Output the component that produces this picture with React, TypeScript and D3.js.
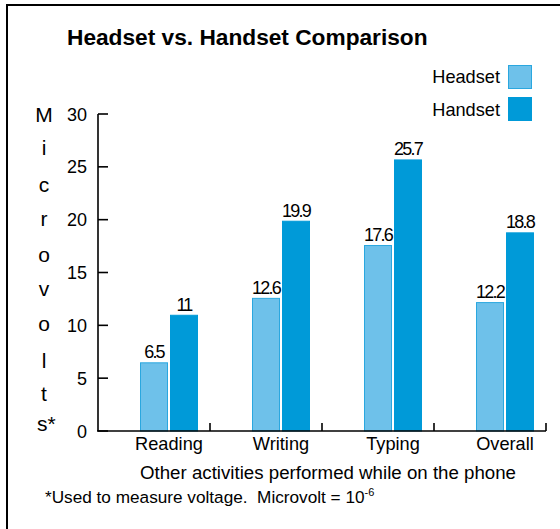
import React from "react";
import * as d3 from "d3";

const categories = ["Reading", "Writing", "Typing", "Overall"];
const seriesNames = ["Headset", "Handset"];
const headset = [6.5, 12.6, 17.6, 12.2];
const handset = [11, 19.9, 25.7, 18.8];
const yTicks = [0, 5, 10, 15, 20, 25, 30];
const yLabelLetters = ["M", "i", "c", "r", "o", "v", "o", "l", "t", "s*"];
const yLabelBaselines = [122, 155, 192, 226, 262, 296, 331, 368, 401, 431];

const colors = ["#6ec1ea", "#009ad8"];
const strokes = ["#2aa7df", "#009ad8"];
const FONT = "'Liberation Sans', Arial, Helvetica, sans-serif";

export default function App() {
  const W = 560, H = 529;
  const x0 = 98, x1 = 546;
  const yb = 431, yt = 114;
  const x = d3.scaleBand().domain(categories).range([x0, x1]).paddingInner(0).paddingOuter(0);
  const y = d3.scaleLinear().domain([0, 30]).range([yb, yt]);
  const barW = 28;
  const gap = 2;
  const offset = 42;
  const series = [headset, handset];

  return (
    <svg width={W} height={H} style={{ position: "absolute", left: 0, top: 0, background: "#fff" }} fontFamily={FONT}>
      <rect x={0} y={0} width={W} height={H} fill="#fff" />
      {/* frame */}
      <line x1={6} y1={5} x2={W} y2={5} stroke="#000" strokeWidth={2} />
      <line x1={7} y1={4} x2={7} y2={H} stroke="#000" strokeWidth={2} />

      <text x={67} y={45} fontSize={22.7} fontWeight="bold" fill="#000">Headset vs. Handset Comparison</text>

      {/* legend */}
      {seriesNames.map((s, i) => (
        <g key={s}>
          <text x={500} y={83 + i * 32.5} fontSize={18.2} textAnchor="end" fill="#000">{s}</text>
          <rect x={508.5} y={65.5 + i * 32} width={23} height={23} fill={colors[i]} stroke={strokes[i]} strokeWidth={1} />
        </g>
      ))}

      {/* bars */}
      {categories.map((c, ci) =>
        series.map((vals, si) => {
          const bx = (x(c) as number) + offset + si * (barW + gap);
          const v = vals[ci];
          return (
            <g key={c + si}>
              <rect x={bx + 0.5} y={y(v) + 0.5} width={barW - 1} height={yb - y(v) - 0.5} fill={colors[si]} stroke={strokes[si]} strokeWidth={1} />
              <text x={bx + barW / 2} y={y(v) - 4} fontSize={18} letterSpacing={-1.8} textAnchor="middle" fill="#000">{String(v)}</text>
            </g>
          );
        })
      )}

      {/* y axis */}
      <line x1={x0} y1={yt} x2={x0} y2={yb} stroke="#000" strokeWidth={1.6} />
      {yTicks.map((t) => (
        <g key={t}>
          <line x1={x0} x2={x0 + 10} y1={y(t)} y2={y(t)} stroke="#000" strokeWidth={1.6} />
          <text x={87} y={y(t) + 6.5} fontSize={18} textAnchor="end" fill="#000">{t}</text>
        </g>
      ))}

      {/* x axis */}
      <line x1={x0 - 1} y1={yb} x2={x1} y2={yb} stroke="#000" strokeWidth={1.6} />
      {categories.map((c) => {
        const bx = (x(c) as number) + x.bandwidth();
        return <line key={"t" + c} x1={bx} x2={bx} y1={yb} y2={yb - 8} stroke="#000" strokeWidth={1.6} />;
      })}
      {categories.map((c) => (
        <text key={"l" + c} x={(x(c) as number) + offset + barW + gap / 2} y={450} fontSize={18.2} textAnchor="middle" fill="#000">{c}</text>
      ))}

      <text x={328} y={479} fontSize={18.7} textAnchor="middle" fill="#000">Other activities performed while on the phone</text>

      {/* y label */}
      {yLabelLetters.map((l, i) => (
        <text key={i} x={l === "s*" ? 37 : 44} y={yLabelBaselines[i]} fontSize={21} textAnchor={l === "s*" ? "start" : "middle"} fill="#000">{l}</text>
      ))}

      <text x={45} y={503} fontSize={17.2} fill="#000" style={{ whiteSpace: "pre" }}>
        {"*Used to measure voltage.  Microvolt = 10"}
        <tspan fontSize={11} dy={-7}>-6</tspan>
      </text>
    </svg>
  );
}
